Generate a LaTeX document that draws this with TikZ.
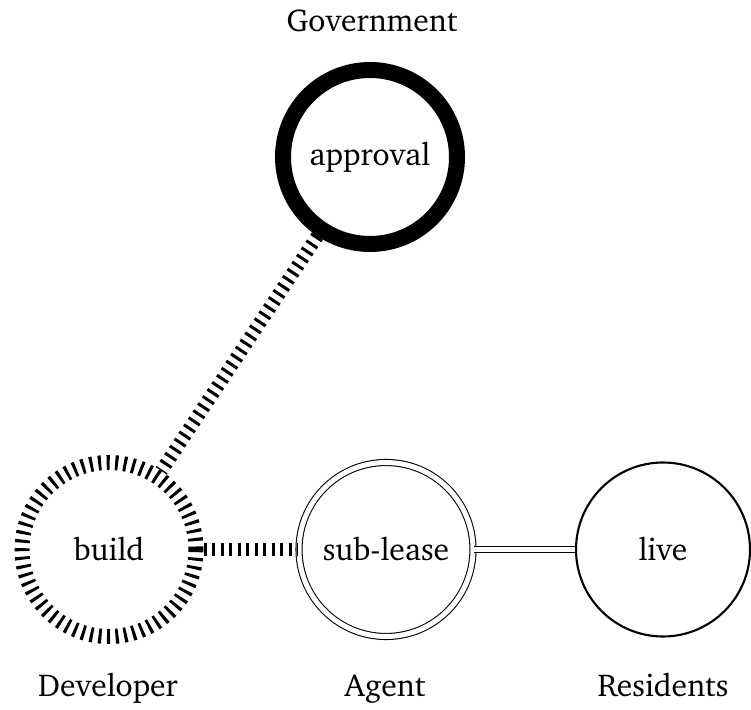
\documentclass[tikz,border=0pt]{standalone}
\usepackage[T1]{fontenc}
\usepackage{charter}
\begin{document}
\begin{tikzpicture}[every node/.style={font=\fontsize{18}{22}\selectfont},
  actor/.style={circle,minimum size=3.48cm,inner sep=0pt},
  role/.style={anchor=base},
  hatch/.style={line width=0.27cm,dash pattern=on 0.06cm off 0.11cm}]
\useasboundingbox (0,0) rectangle (15.02,14.18);
% the four roles
\node[actor,draw,line width=0.32cm] (approval) at (7.40,11.04) {approval};
\node[actor,draw,line width=0.3cm,dash pattern=on 0.06cm off 0.11cm] (build) at (2.18,3.19) {build};
\node[actor,draw,double,line width=0.6pt,double distance=1mm] (sublease) at (7.72,3.19) {sub-lease};
\node[actor,draw,line width=1.2pt] (live) at (13.26,3.19) {live};
% links
\draw[hatch] (approval) -- (build);
\draw[hatch] (build) -- (sublease);
\draw[double,line width=0.6pt,double distance=1mm] (sublease) -- (live);
% who does what
\node[role] (gov) at (7.44,13.54) {Government};
\node[role] (dev) at (2.16,0.26) {Developer};
\node[role] (agent) at (7.70,0.26) {Agent};
\node[role] (res) at (13.26,0.26) {Residents};
\end{tikzpicture}
\end{document}
